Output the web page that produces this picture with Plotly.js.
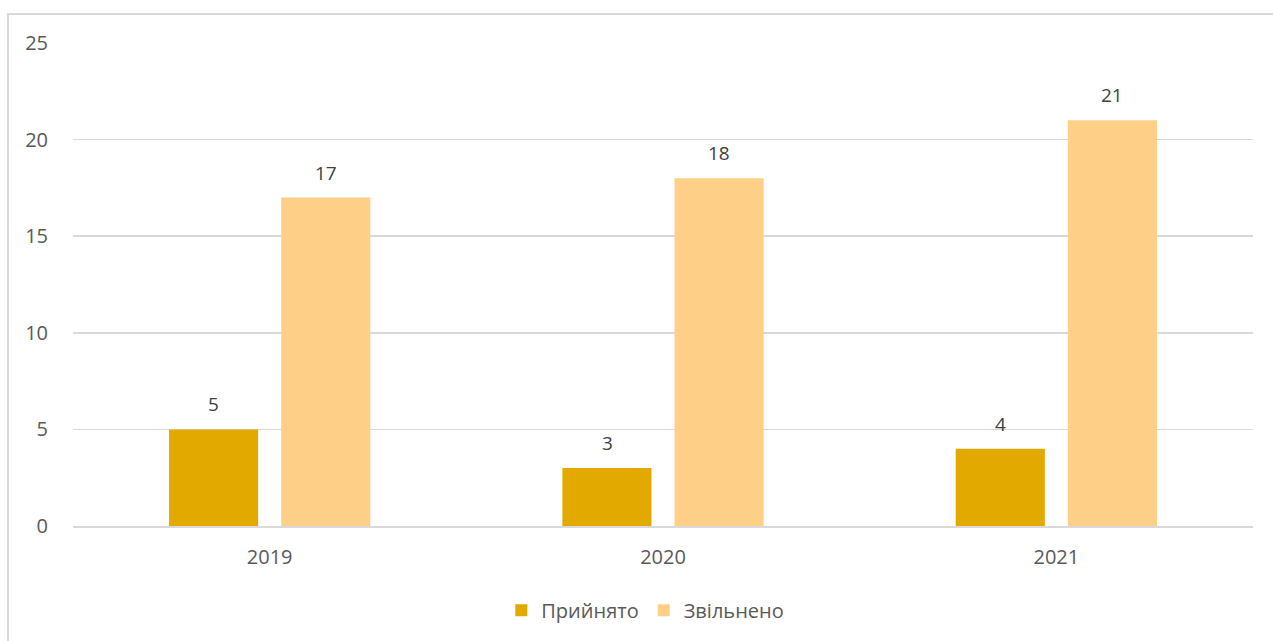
<!DOCTYPE html>
<html>
<head>
<meta charset="utf-8">
<script src="https://cdn.plot.ly/plotly-3.0.1.min.js"></script>
<style>
  html, body { margin: 0; padding: 0; background: #ffffff; }
  #wrap { position: relative; width: 1273px; height: 641px; }
  #chart { width: 1273px; height: 641px; }
  #frame { position: absolute; left: 7px; top: 13px; width: 1266px; height: 628px;
           border-left: 2px solid #d9d9d9; border-top: 2px solid #d9d9d9; pointer-events: none; }
</style>
</head>
<body>
<div id="wrap">
  <div id="chart"></div>
  <div id="frame"></div>
</div>
<script>
const categories = ["2019", "2020", "2021"];
const hired = [5, 3, 4];
const dismissed = [17, 18, 21];
const seriesNames = ["Прийнято", "Звільнено"];
const yTicks = [0, 5, 10, 15, 20, 25];

const colors = ["#E2AA00", "#FED087"];
const FONT = "'Open Sans', 'Noto Sans', sans-serif";

const traces = [hired, dismissed].map((vals, i) => ({
  type: "bar",
  name: seriesNames[i],
  x: categories,
  y: vals,
  marker: { color: colors[i] },
  hoverinfo: "x+y+name"
}));

const offsets = [-56, 56];
const annotations = [];
[hired, dismissed].forEach((vals, i) => {
  vals.forEach((v, j) => {
    annotations.push({
      x: j, y: v, xref: "x", yref: "y",
      text: String(v), showarrow: false,
      xshift: offsets[i], yshift: 10, yanchor: "bottom",
      font: { family: FONT, size: 19, color: "#404040" }
    });
  });
});

const layout = {
  width: 1273, height: 641,
  margin: { l: 73, r: 20, t: 43, b: 114 },
  paper_bgcolor: "rgba(0,0,0,0)",
  plot_bgcolor: "#ffffff",
  barmode: "group",
  bargap: 0.43,
  bargroupgap: 0.205,
  showlegend: true,
  legend: {
    orientation: "h", x: 0.485, xanchor: "center", y: -0.172, yanchor: "middle",
    font: { family: FONT, size: 20, color: "#595959" },
    traceorder: "normal"
  },
  xaxis: {
    type: "category",
    range: [-0.5, 2.5], autorange: false,
    showgrid: false, zeroline: false, showline: true,
    linecolor: "#d9d9d9", linewidth: 2,
    ticks: "", ticklabelstandoff: 12,
    tickfont: { family: FONT, size: 20, color: "#595959" },
    fixedrange: true
  },
  yaxis: {
    range: [0, 25], autorange: false,
    tickvals: yTicks,
    ticktext: yTicks.map(String),
    showgrid: true, gridcolor: "#d9d9d9", gridwidth: 1.5,
    zeroline: false, showline: false,
    ticks: "", ticklabelstandoff: 24,
    tickfont: { family: FONT, size: 20, color: "#595959" },
    fixedrange: true
  },
  annotations: annotations,
  font: { family: FONT }
};

Plotly.newPlot("chart", traces, layout, { displayModeBar: false, staticPlot: true });
</script>
</body>
</html>
